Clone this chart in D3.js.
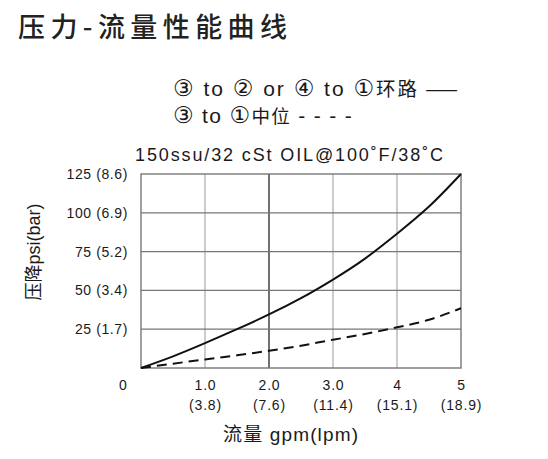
<!DOCTYPE html>
<html><head><meta charset="utf-8">
<script src="https://cdn.jsdelivr.net/npm/d3@7"></script>
<style>
html,body{margin:0;padding:0;background:#fff;}
svg{display:block;}
text{font-family:"Liberation Sans",Arial,"Noto Sans CJK SC",sans-serif;fill:#1a1a1a;}
</style></head>
<body>
<svg id="chart" width="548" height="459"></svg>
<script>
// ---- data ----
const flowGpm = [0, 0.5, 1, 1.5, 2, 2.5, 3, 3.5, 4, 4.5, 5];
const pressureLoop = [0, 7.5, 16, 25, 34.5, 45, 57, 70.5, 86.5, 104, 125];   // ③ to ② or ④ to ① (solid)
const pressureCenter = [0, 2.8, 5.5, 8.2, 11.1, 14.4, 18.2, 21.9, 26.2, 31.1, 38.5]; // ③ to ① (dashed)
const xTicks = [1, 2, 3, 4, 5];
const xTickLabels = ["1.0", "2.0", "3.0", "4", "5"];
const xTickSubLabels = ["(3.8)", "(7.6)", "(11.4)", "(15.1)", "(18.9)"];
const yTicks = [25, 50, 75, 100, 125];
const yTickLabels = ["25 (1.7)", "50 (3.4)", "75 (5.2)", "100 (6.9)", "125 (8.6)"];

const svg = d3.select("#chart");
const x = d3.scaleLinear().domain([0, 5]).range([141, 461]);
const y = d3.scaleLinear().domain([0, 125]).range([368, 174]);
const CJK = "'Noto Sans CJK SC',sans-serif";

// title
svg.append("text").attr("x", 18).attr("y", 37)
  .attr("textLength", 269).attr("lengthAdjust", "spacing")
  .style("font-family", CJK).style("font-weight", 500)
  .style("font-size", "27px").style("fill", "#222")
  .text("压力-流量性能曲线");

// legend
function richText(sel, parts, cjkSize) {
  parts.forEach(p => {
    const t = sel.append("tspan").text(p[0]);
    if (p[1] === 1) t.style("font-family", "'DejaVu Sans',sans-serif").style("font-size", "23px");
    if (p[1] === 2) t.style("font-family", CJK).style("font-size", cjkSize);
  });
}
function fitWidth(sel, target) {
  const n = sel.text().length;
  const len = sel.node().getComputedTextLength();
  const ls = Math.max(-1, (target - len) / n);
  sel.style("letter-spacing", ls + "px");
}
const leg = svg.append("g").style("font-size", "21px");
const l1 = leg.append("text").attr("x", 173).attr("y", 95.5);
richText(l1, [["③", 1], [" to "], ["②", 1], [" or "], ["④", 1], [" to "], ["①", 1], ["环路 ——", 2]], "19.5px");
fitWidth(l1, 289);
const l2 = leg.append("text").attr("x", 173).attr("y", 123);
richText(l2, [["③", 1], [" to "], ["①", 1], ["中位", 2], [" - - - -"]], "18.5px");
fitWidth(l2, 180);

// subtitle
svg.append("text").attr("x", 135).attr("y", 161).style("font-size", "18px")
  .attr("textLength", 308).attr("lengthAdjust", "spacing")
  .text("150ssu/32 cSt OIL@100˚F/38˚C");

// grid
const g = svg.append("g");
g.selectAll(".vgrid").data(xTicks.filter(d => d !== 5)).enter().append("line")
  .attr("x1", d => x(d)).attr("x2", d => x(d)).attr("y1", y(0)).attr("y2", y(125))
  .attr("stroke", d => d === 2 ? "#111" : "#aaa").attr("stroke-width", 1.2);
g.selectAll(".hgrid").data(yTicks.filter(d => d !== 125)).enter().append("line")
  .attr("x1", x(0)).attr("x2", x(5)).attr("y1", d => y(d)).attr("y2", d => y(d))
  .attr("stroke", "#777").attr("stroke-width", 1.2);
g.append("rect").attr("x", x(0)).attr("y", y(125)).attr("width", x(5) - x(0)).attr("height", y(0) - y(125))
  .attr("fill", "none").attr("stroke", "#777").attr("stroke-width", 1.4);

// curves
const line = d3.line().x((d, i) => x(flowGpm[i])).y(d => y(d)).curve(d3.curveNatural);
g.append("path").datum(pressureLoop).attr("d", line)
  .attr("fill", "none").attr("stroke", "#111").attr("stroke-width", 2);
g.append("path").datum(pressureCenter).attr("d", line)
  .attr("fill", "none").attr("stroke", "#111").attr("stroke-width", 2).attr("stroke-dasharray", "10,6");

// y axis
const yAxis = svg.append("g").attr("transform", `translate(${x(0)},0)`)
  .call(d3.axisLeft(y).tickValues(yTicks).tickSize(0).tickPadding(13)
    .tickFormat((d, i) => yTickLabels[i]));
yAxis.select(".domain").remove();
yAxis.selectAll("text").style("font-family", "'Liberation Sans',Arial,sans-serif")
  .style("font-size", "14px").style("letter-spacing", "0.6px").attr("fill", "#1a1a1a");

// x axis
const xAxis = svg.append("g").attr("transform", `translate(0,${y(0)})`)
  .call(d3.axisBottom(x).tickValues(xTicks).tickSize(0).tickFormat((d, i) => xTickLabels[i]));
xAxis.select(".domain").remove();
xAxis.selectAll("text").attr("y", 22).attr("dy", 0)
  .style("font-family", "'Liberation Sans',Arial,sans-serif").style("font-size", "14px")
  .style("letter-spacing", "0.8px").attr("fill", "#1a1a1a");
xAxis.selectAll(".tick").append("text").attr("y", 42).attr("fill", "#1a1a1a")
  .style("font-family", "'Liberation Sans',Arial,sans-serif").style("font-size", "14px")
  .style("letter-spacing", "0.8px").attr("text-anchor", "middle")
  .text((d, i) => xTickSubLabels[i]);
svg.append("text").attr("x", x(0) - 18).attr("y", 390).attr("text-anchor", "middle")
  .style("font-size", "14px").text("0");

// axis titles
svg.append("text").attr("x", 223).attr("y", 441)
  .attr("textLength", 135).attr("lengthAdjust", "spacing")
  .style("font-size", "19px").text("流量 gpm(lpm)");
svg.append("text").attr("transform", "translate(40,252) rotate(-90)").attr("text-anchor", "middle")
  .style("font-size", "18px").text("压降psi(bar)");
</script>
</body></html>
